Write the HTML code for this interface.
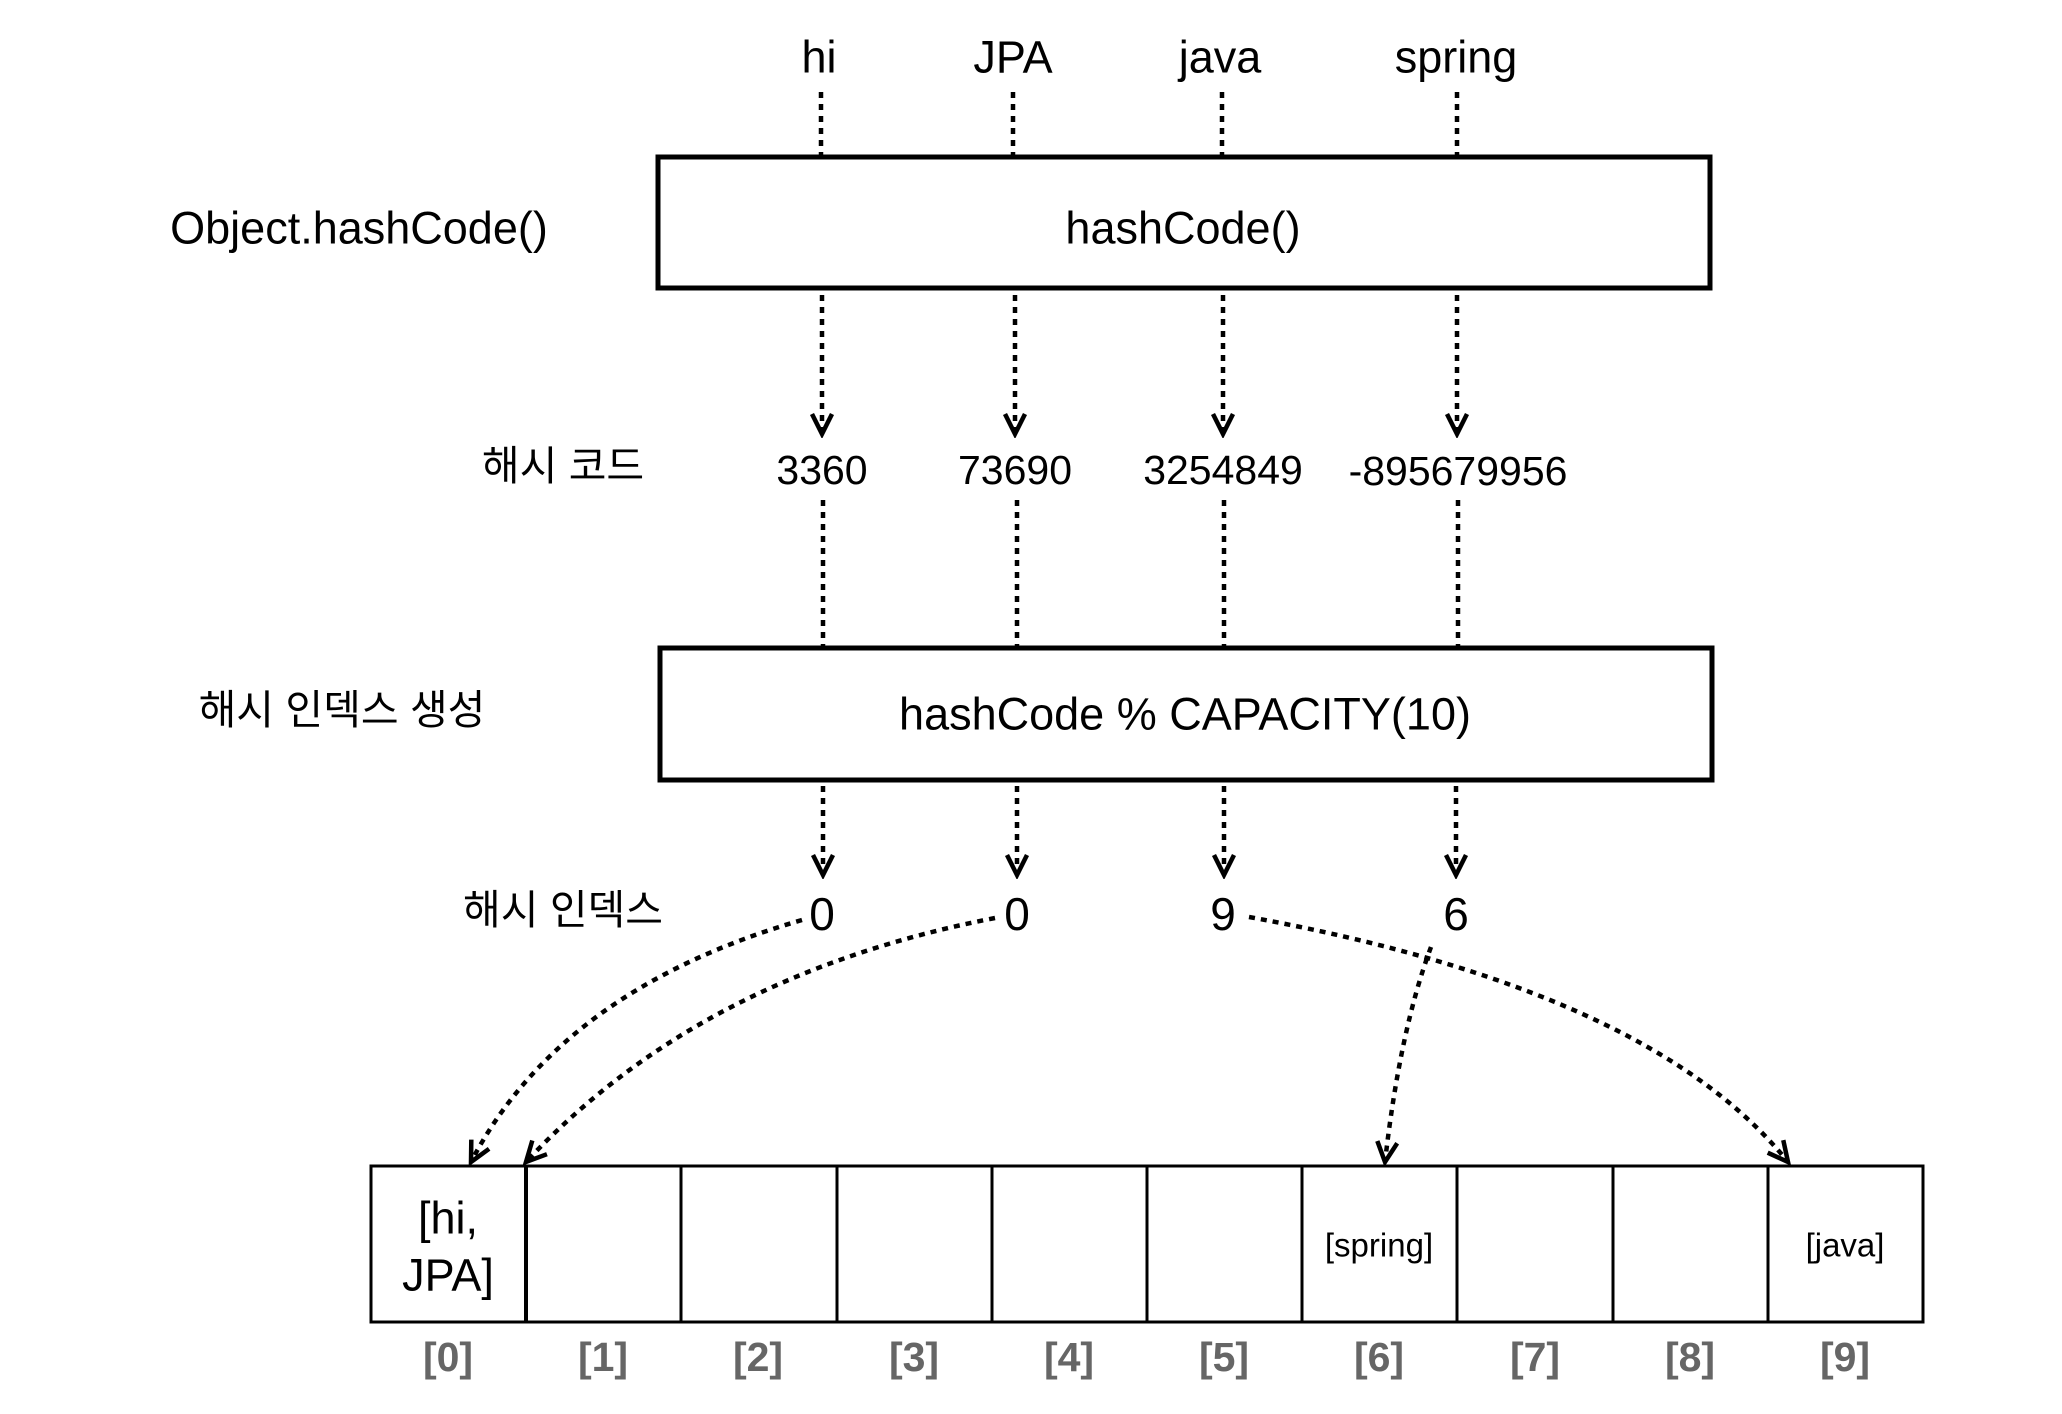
<!DOCTYPE html>
<html><head><meta charset="utf-8"><style>
html,body{margin:0;padding:0;background:#fff}
svg{display:block}
text{font-family:"Liberation Sans","Noto Sans CJK KR",sans-serif;text-anchor:middle;dominant-baseline:central}
</style></head><body>
<svg width="2062" height="1414" viewBox="0 0 2062 1414" xmlns="http://www.w3.org/2000/svg">
<defs>
<marker id="a" markerWidth="12" markerHeight="12" refX="9" refY="6" orient="auto" markerUnits="userSpaceOnUse" viewBox="0 0 12 12">
<path d="M1,1 L9,6 L1,11" fill="none" stroke="#000" stroke-width="2.5"/>
</marker>
<marker id="b" markerWidth="28" markerHeight="28" refX="24" refY="14" orient="auto" markerUnits="userSpaceOnUse" viewBox="0 0 28 28">
<path d="M4,4 L24,14 L4,24" fill="none" stroke="#000" stroke-width="4.5"/>
</marker>
</defs>
<g font-size="45" fill="#000">
<text x="819" y="57">hi</text>
<text x="1013" y="57">JPA</text>
<text x="1220" y="57">java</text>
<text x="1456" y="57">spring</text>
<text x="359" y="228">Object.hashCode()</text>
<text x="1183" y="228">hashCode()</text>
<text x="1185" y="714">hashCode % CAPACITY(10)</text>
</g>
<g font-size="41">
<text x="563" y="466">해시 코드</text>
<text x="822" y="470">3360</text>
<text x="1015" y="470">73690</text>
<text x="1223" y="470">3254849</text>
<text x="1458" y="471">-895679956</text>
<text x="342" y="710">해시 인덱스 생성</text>
<text x="563" y="910">해시 인덱스</text>
</g>
<g font-size="46">
<text x="822" y="914">0</text>
<text x="1017" y="914">0</text>
<text x="1223" y="914">9</text>
<text x="1456" y="914">6</text>
</g>
<rect x="658" y="157" width="1052" height="131" fill="none" stroke="#000" stroke-width="5"/>
<rect x="660" y="648" width="1052" height="132" fill="none" stroke="#000" stroke-width="5"/>
<g stroke="#000" stroke-width="4.5" stroke-dasharray="6,6" fill="none">
<line x1="821" y1="92" x2="821" y2="155"/>
<line x1="1013" y1="92" x2="1013" y2="155"/>
<line x1="1222" y1="92" x2="1222" y2="155"/>
<line x1="1457" y1="92" x2="1457" y2="155"/>
<line x1="822" y1="295" x2="822" y2="434" marker-end="url(#b)"/>
<line x1="1015" y1="295" x2="1015" y2="434" marker-end="url(#b)"/>
<line x1="1223" y1="295" x2="1223" y2="434" marker-end="url(#b)"/>
<line x1="1457" y1="295" x2="1457" y2="434" marker-end="url(#b)"/>
<line x1="823" y1="500" x2="823" y2="646"/>
<line x1="1017" y1="500" x2="1017" y2="646"/>
<line x1="1224" y1="500" x2="1224" y2="646"/>
<line x1="1458" y1="500" x2="1458" y2="646"/>
<line x1="823" y1="786" x2="823" y2="875" marker-end="url(#b)"/>
<line x1="1017" y1="786" x2="1017" y2="875" marker-end="url(#b)"/>
<line x1="1224" y1="786" x2="1224" y2="875" marker-end="url(#b)"/>
<line x1="1456" y1="786" x2="1456" y2="875" marker-end="url(#b)"/>
<path d="M802,920 Q560,990 471,1162" marker-end="url(#b)"/>
<path d="M995,918 Q700,975 526,1162" marker-end="url(#b)"/>
<path d="M1249,917 Q1650,990 1788,1162" marker-end="url(#b)"/>
<path d="M1431,947 Q1400,1030 1385,1162" marker-end="url(#b)"/>
</g>
<g stroke="#000" stroke-width="3" fill="none">
<rect x="371" y="1166" width="1552" height="156"/>
<line x1="526" y1="1166" x2="526" y2="1322" stroke-width="4"/>
<line x1="681" y1="1166" x2="681" y2="1322"/>
<line x1="837" y1="1166" x2="837" y2="1322"/>
<line x1="992" y1="1166" x2="992" y2="1322"/>
<line x1="1147" y1="1166" x2="1147" y2="1322"/>
<line x1="1302" y1="1166" x2="1302" y2="1322"/>
<line x1="1457" y1="1166" x2="1457" y2="1322"/>
<line x1="1613" y1="1166" x2="1613" y2="1322"/>
<line x1="1768" y1="1166" x2="1768" y2="1322"/>
</g>
<g font-size="45">
<text x="448" y="1218">[hi,</text>
<text x="448" y="1275">JPA]</text>
</g>
<g font-size="33">
<text x="1379" y="1245">[spring]</text>
<text x="1845" y="1245">[java]</text>
</g>
<g font-size="41" font-weight="bold" fill="#666">
<text x="448" y="1357">[0]</text>
<text x="603" y="1357">[1]</text>
<text x="758" y="1357">[2]</text>
<text x="914" y="1357">[3]</text>
<text x="1069" y="1357">[4]</text>
<text x="1224" y="1357">[5]</text>
<text x="1379" y="1357">[6]</text>
<text x="1535" y="1357">[7]</text>
<text x="1690" y="1357">[8]</text>
<text x="1845" y="1357">[9]</text>
</g>
</svg>
</body></html>
